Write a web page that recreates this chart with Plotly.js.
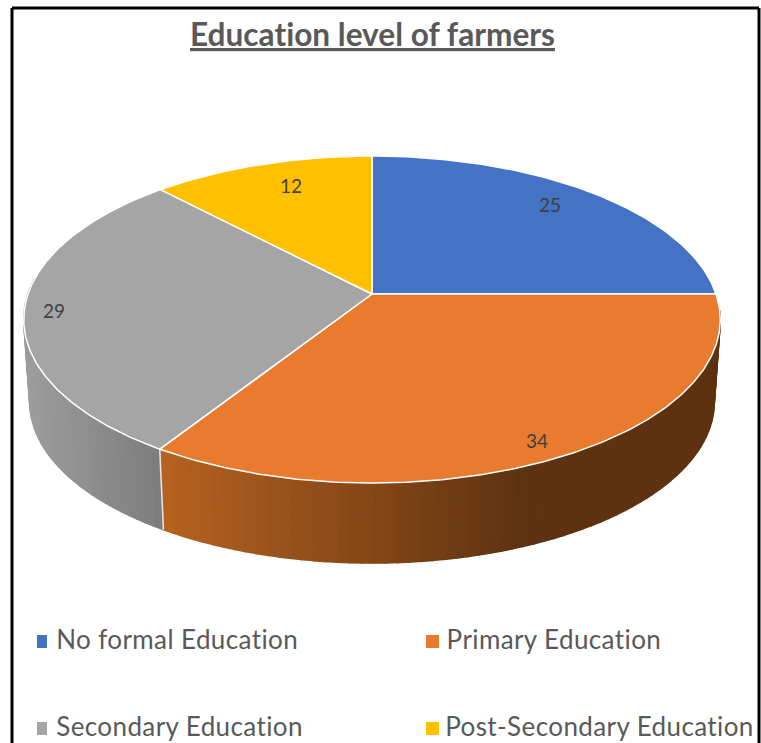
<!DOCTYPE html>
<html>
<head>
<meta charset="utf-8">
<script src="https://cdn.plot.ly/plotly-3.0.1.min.js"></script>
<style>
html,body{margin:0;padding:0;background:#fff}
svg text{font-variant-ligatures:none !important;font-feature-settings:"liga" 0,"clig" 0 !important}
.legend-entry{letter-spacing:.4px}
</style>
</head>
<body>
<div id="chart" style="width:761px;height:743px"></div>
<script>
// Chart values
const categories = ['No formal Education', 'Primary Education', 'Secondary Education', 'Post-Secondary Education'];
const values = [25, 34, 29, 12];
const topColors = ['#4472C4', '#E97B2E', '#A5A5A5', '#FFC000'];
const chartTitle = 'Education level of farmers';

// Perspective disc: u runs right, v runs away from the viewer
const depth = 0.156;
const topFace = {cx: 372, cy: 294, a: 344, b: 159.5};
const baseFace = {cx: 372, cy: 377, a: 338, b: 157};

function project(face, theta) {
  const u = Math.sin(theta), v = Math.cos(theta), w = 1 + depth * v;
  return [face.cx + face.a * u / w, face.cy - face.b * v / w];
}
function sample(a0, a1, step) {
  const n = Math.max(1, Math.ceil((a1 - a0) / step)), out = [];
  for (let i = 0; i <= n; i++) out.push(a0 + (a1 - a0) * i / n);
  return out;
}
function mix(c0, c1, t) {
  t = Math.min(1, Math.max(0, t));
  return 'rgb(' + c0.map((c, i) => Math.round(c + (c1[i] - c) * t)).join(',') + ')';
}

const total = values.reduce((s, v) => s + v, 0);
const edges = [0];
values.forEach(v => edges.push(edges[edges.length - 1] + v / total * 2 * Math.PI));

// Side wall shading per slice, as a function of screen x
const wallShade = [
  null,
  x => mix([182, 98, 32], [94, 50, 16], (x - 160) / 365),
  x => mix([156, 156, 156], [124, 124, 124], (x - 28) / 133),
  null
];

const traces = [];

// Wall: narrow strips from the right silhouette round the front to the left silhouette.
// Each strip's outline overlaps its neighbour so no seams show between them.
const wallFrom = Math.PI / 2 + 0.1, wallTo = 3 * Math.PI / 2 + 0.1;
values.forEach((val, i) => {
  if (!wallShade[i]) return;
  const a0 = Math.max(edges[i], wallFrom), a1 = Math.min(edges[i + 1], wallTo);
  const stops = sample(a0, a1, 0.03);
  for (let k = 0; k < stops.length - 1; k++) {
    const p0 = project(topFace, stops[k]), p1 = project(topFace, stops[k + 1]);
    const q0 = project(baseFace, stops[k]), q1 = project(baseFace, stops[k + 1]);
    const col = wallShade[i]((p0[0] + p1[0]) / 2);
    traces.push({
      type: 'scatter', mode: 'lines', fill: 'toself', fillcolor: col,
      x: [p0[0], p1[0], q1[0], q0[0], p0[0]],
      y: [p0[1], p1[1], q1[1], q0[1], p0[1]],
      line: {color: col, width: 1.6}, hoverinfo: 'skip', showlegend: false
    });
  }
});

// White seam between the two visible wall pieces
const seamTop = project(topFace, edges[2]), seamBase = project(baseFace, edges[2]);
traces.push({
  type: 'scatter', mode: 'lines', x: [seamTop[0], seamBase[0]], y: [seamTop[1], seamBase[1]],
  line: {color: '#e8e8e8', width: 1.5}, hoverinfo: 'skip', showlegend: false
});

// Top face slices
values.forEach((val, i) => {
  const pts = sample(edges[i], edges[i + 1], 0.01).map(t => project(topFace, t));
  const xs = [topFace.cx].concat(pts.map(p => p[0]), [topFace.cx]);
  const ys = [topFace.cy].concat(pts.map(p => p[1]), [topFace.cy]);
  traces.push({
    type: 'scatter', mode: 'lines', fill: 'toself', fillcolor: topColors[i],
    x: xs, y: ys, line: {color: '#ffffff', width: 1.5},
    name: categories[i], text: String(val), hoverinfo: 'name+text', showlegend: false
  });
});

// Value labels
const labelSpots = [[550, 204], [537, 440], [54, 310], [291, 185]];
const annotations = values.map((v, i) => ({
  x: labelSpots[i][0], y: labelSpots[i][1], text: String(v), showarrow: false,
  font: {family: 'Lato, "Open Sans", sans-serif', size: 19, color: '#404040'}
}));

// Legend, laid out as two rows of two
const legendSpots = [[58, 639], [448, 639], [58, 726], [448, 726]];
const swatches = [[37, 47, 635, 648], [426, 439, 635, 648], [37, 47, 722, 735], [426, 439, 722, 735]];
categories.forEach((c, i) => annotations.push({
  x: legendSpots[i][0], y: legendSpots[i][1], text: c, showarrow: false, xanchor: 'left',
  font: {family: 'Lato, "Open Sans", sans-serif', size: 26, color: '#595959'}
}));
annotations.push({
  x: 372.5, y: 34, text: '<b><u>' + chartTitle + '</u></b>', showarrow: false,
  font: {family: 'Lato, "Open Sans", sans-serif', size: 31.6, color: '#595959'}
});

const shapes = swatches.map((s, i) => ({
  type: 'rect', xref: 'x', yref: 'y', x0: s[0], x1: s[1], y0: s[2], y1: s[3],
  fillcolor: topColors[i], line: {width: 0}
}));
// Chart frame, open at the bottom edge
[[12, 8, 759, 8], [12, 8, 12, 743], [759, 8, 759, 743]].forEach(f => shapes.push({
  type: 'line', xref: 'x', yref: 'y', x0: f[0], y0: f[1], x1: f[2], y1: f[3],
  line: {color: '#000000', width: 3}
}));

const layout = {
  width: 761, height: 743, margin: {l: 0, r: 0, t: 0, b: 0},
  paper_bgcolor: '#ffffff', plot_bgcolor: '#ffffff', showlegend: false,
  xaxis: {range: [0, 761], visible: false, fixedrange: true},
  yaxis: {range: [743, 0], visible: false, fixedrange: true},
  shapes: shapes, annotations: annotations
};
Plotly.newPlot('chart', traces, layout, {displayModeBar: false, staticPlot: true}).then(() => {
  // Slightly open tracking on the four legend entries
  document.querySelectorAll('.annotation-text').forEach(t => {
    if (categories.includes(t.textContent)) t.classList.add('legend-entry');
  });
});
</script>
</body>
</html>
